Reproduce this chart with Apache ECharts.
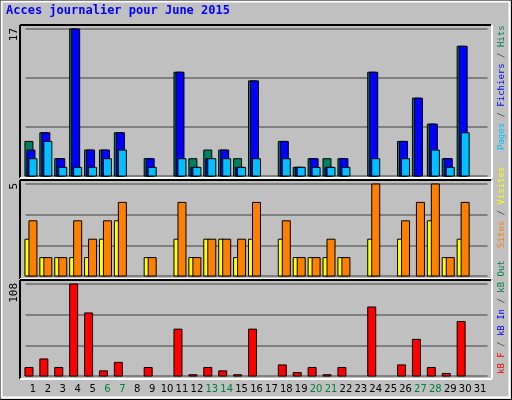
<!DOCTYPE html>
<html><head><meta charset="utf-8">
<script src="https://cdn.jsdelivr.net/npm/echarts@6/dist/echarts.min.js"></script>
<style>html,body{margin:0;padding:0;background:#c0c0c0}#c{width:512px;height:400px}</style>
</head><body><div id="c"></div>
<script>
const days = Array.from({length:31},(_, i)=>String(i+1));
const weekend = ['6','7','13','14','20','21','27','28'];
const hits    = [4,5,2,17,3,3,5,0,2,0,12,2,3,3,2,11,0,4,1,2,2,2,0,12,0,4,9,6,2,15,0];
const files   = [3,5,2,17,3,3,5,0,2,0,12,1,2,3,1,11,0,4,1,2,1,2,0,12,0,4,9,6,2,15,0];
const pages   = [2,4,1,1,1,2,3,0,1,0,2,1,2,2,1,2,0,2,1,1,1,1,0,2,0,2,0,3,1,5,0];
const visits  = [2,1,1,1,1,2,3,0,1,0,2,1,2,2,1,2,0,2,1,1,1,1,0,2,0,2,0,3,1,2,0];
const sites   = [3,1,1,3,2,3,4,0,1,0,4,1,2,2,2,4,0,3,1,1,2,1,0,5,0,3,4,5,1,4,0];
const kbF     = [10,20,10,108,74,6,16,0,10,0,55,1.5,10,6,1.5,55,0,13,4,10,1.5,10,0,81,0,13,43,10,3,64,0];
const max1=17, max2=5, max3=108;

function barSeries(grid, data, color, x0, x1){
  return {type:'custom', xAxisIndex:grid, yAxisIndex:grid, data:data.map((v,i)=>[i,v]),
    renderItem:function(params, api){
      const v=api.value(1); if(!v) return;
      const top=api.coord([api.value(0), v]), bot=api.coord([api.value(0),0]);
      return {type:'rect', shape:{x:top[0]+x0, y:top[1], width:x1-x0, height:bot[1]-top[1]},
        style:{fill:color, stroke:'#000', lineWidth:1}};
    }, silent:true, animation:false};
}
const grids=[{top:29,height:147},{top:184,height:92},{top:284,height:92}];
const maxes=[max1,max2,max3];
const chart=echarts.init(document.getElementById('c'));
function frame(y0,y1){
  return [
    {type:'line',shape:{x1:20,y1:y0,x2:491,y2:y0},style:{stroke:'#000',lineWidth:2}},
    {type:'line',shape:{x1:20,y1:y0,x2:20,y2:y1},style:{stroke:'#000',lineWidth:2}},
    {type:'line',shape:{x1:20,y1:y1,x2:492,y2:y1},style:{stroke:'#fff',lineWidth:2}},
    {type:'line',shape:{x1:492,y1:y0,x2:492,y2:y1},style:{stroke:'#fff',lineWidth:2}}
  ];
}
const F='9px "DejaVu Sans Mono"';
function vtext(x,yBottom,txt){
  return {type:'text', x:x, y:yBottom, rotation:Math.PI/2,
    style:{text:txt, rich:rich, font:F, verticalAlign:'middle', align:'left'}};
}
const rich={
  cy:{fill:'#00c0ff',font:F}, bl:{fill:'#0000ff',font:F},
  gr:{fill:'#008040',font:F}, gy:{fill:'#404040',font:F},
  ye:{fill:'#ffff00',font:F}, or:{fill:'#ff8000',font:F},
  rd:{fill:'#ff0000',font:F}
};
chart.setOption({
  backgroundColor:'#c0c0c0', animation:false,
  grid:grids.map(g=>({left:25.5,right:24.5,top:g.top,height:g.height})),
  xAxis:grids.map((g,i)=>({type:'category',gridIndex:i,data:days,
    axisLine:{show:false},axisTick:{show:false},
    axisLabel:{show:i===2,margin:8,interval:0,fontFamily:'DejaVu Sans',fontSize:10,
      color:(v)=>weekend.includes(v)?'#008040':'#000'}})),
  yAxis:grids.map((g,i)=>({type:'value',gridIndex:i,min:0,max:maxes[i],interval:maxes[i]/3,
    axisLabel:{show:false},axisLine:{show:false},axisTick:{show:false},
    splitLine:{show:true,lineStyle:{color:'#808080',width:2}}})),
  series:[
    barSeries(0,hits,'#008060',-8,0),
    barSeries(0,files,'#0000ff',-6,2),
    barSeries(0,pages,'#00c0ff',-4,4),
    barSeries(1,visits,'#ffff00',-8,-3),
    barSeries(1,sites,'#ff8000',-4,4),
    barSeries(2,kbF,'#ff0000',-8,0)
  ],
  graphic:[
    {type:'rect',shape:{x:0.5,y:0.5,width:511,height:399},style:{fill:'none',stroke:'#000',lineWidth:1}},
    {type:'rect',shape:{x:1.5,y:1.5,width:508,height:396},style:{fill:'none',stroke:'#fff',lineWidth:2}},
    ...frame(25,178),...frame(180,279),...frame(280,379),
    {type:'text',x:6,y:5,style:{text:'Acces journalier pour June 2015',font:'bold 12px "DejaVu Sans Mono"',fill:'#0000ff'}},
    {type:'text',x:14,y:28,rotation:Math.PI/2,style:{text:String(max1),font:'11px "DejaVu Sans Mono"',fill:'#000',align:'right',verticalAlign:'middle'}},
    {type:'text',x:14,y:183,rotation:Math.PI/2,style:{text:String(max2),font:'11px "DejaVu Sans Mono"',fill:'#000',align:'right',verticalAlign:'middle'}},
    {type:'text',x:14,y:283,rotation:Math.PI/2,style:{text:String(max3),font:'11px "DejaVu Sans Mono"',fill:'#000',align:'right',verticalAlign:'middle'}},
    vtext(502,150,'{cy|Pages} {gy|/} {bl|Fichiers} {gy|/} {gr|Hits}'),
    vtext(502,248,'{or|Sites} {gy|/} {ye|Visites}'),
    vtext(502,374,'{rd|kB F} {gy|/} {bl|kB In} {gy|/} {gr|kB Out}')
  ]
});
</script></body></html>
